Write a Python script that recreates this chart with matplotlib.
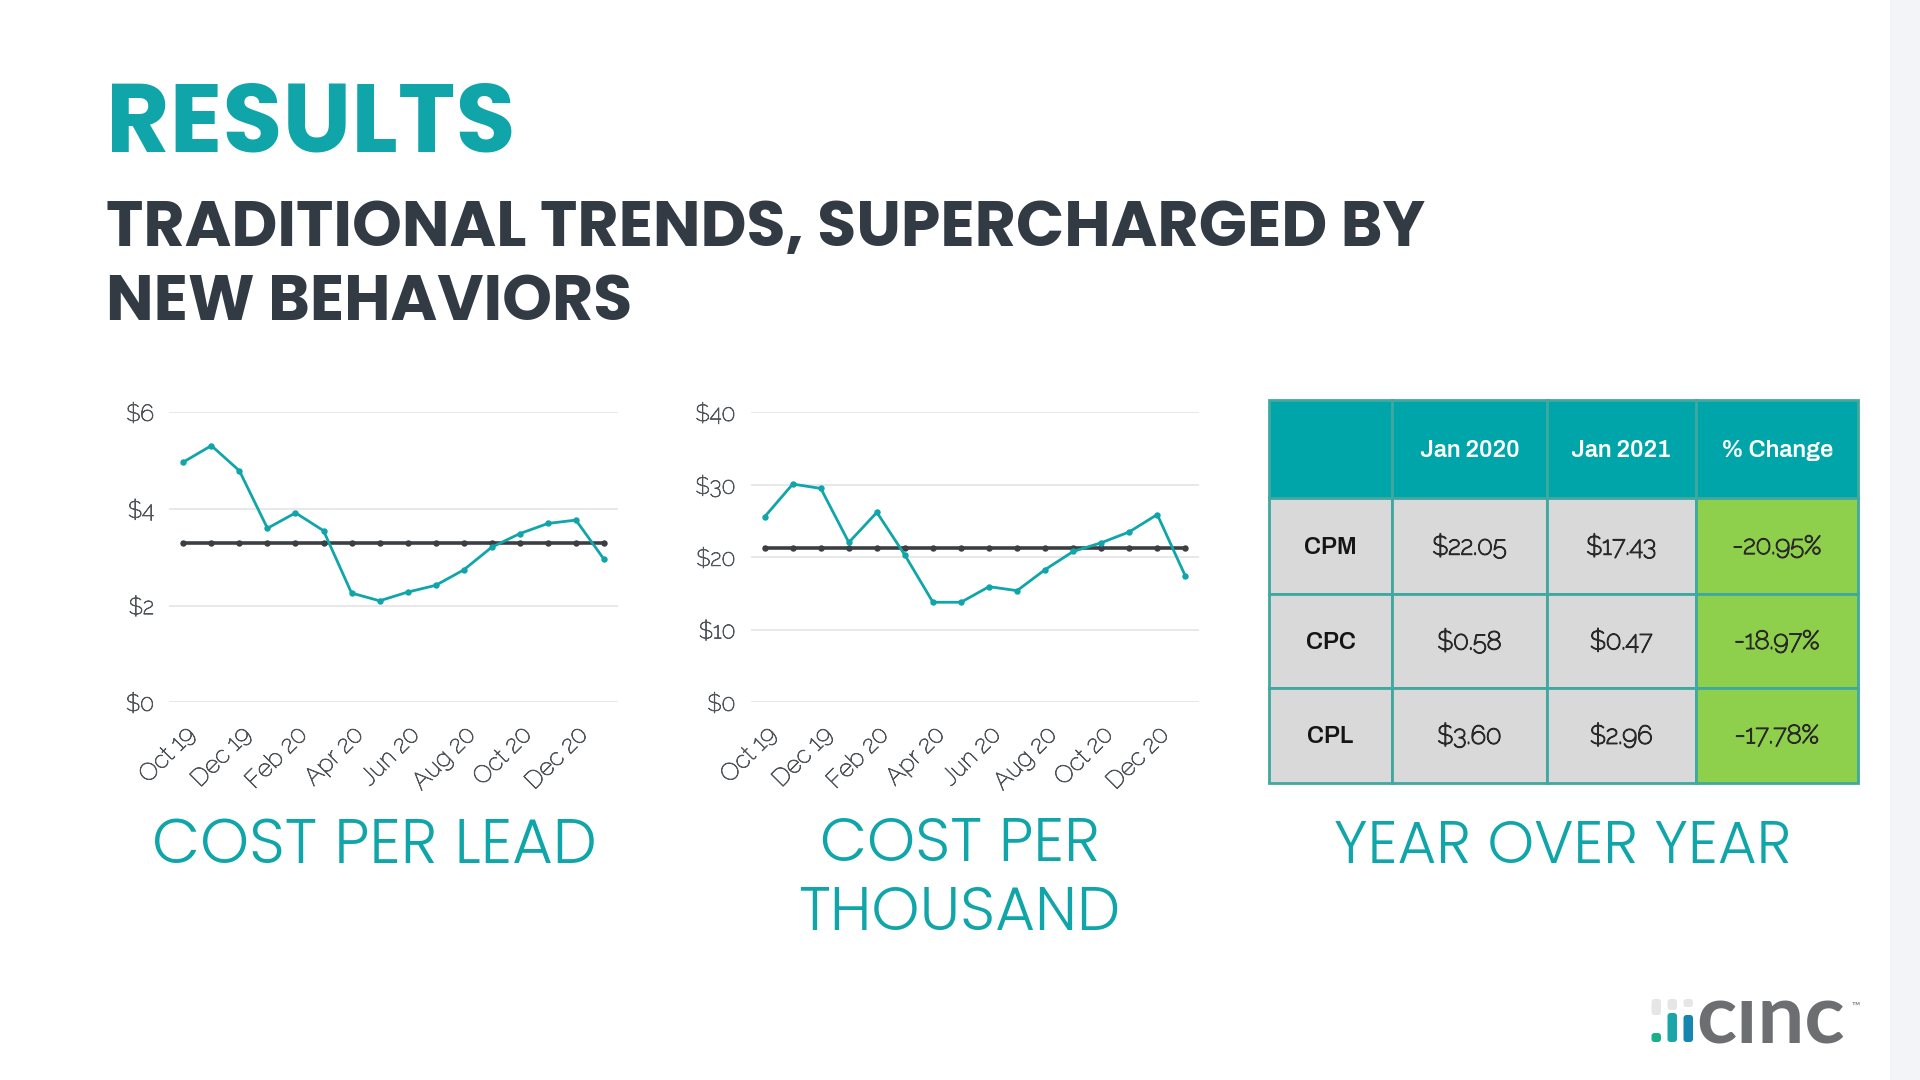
import matplotlib
matplotlib.use("Agg")
import matplotlib.pyplot as plt
from matplotlib.patches import Rectangle, FancyBboxPatch
from matplotlib.transforms import ScaledTranslation
import matplotlib.patheffects as pe

# ---------------- data ----------------
months = ["Oct 19", "Nov 19", "Dec 19", "Jan 20", "Feb 20", "Mar 20", "Apr 20", "May 20",
          "Jun 20", "Jul 20", "Aug 20", "Sep 20", "Oct 20", "Nov 20", "Dec 20", "Jan 21"]
cpl_values = [4.97, 5.31, 4.79, 3.60, 3.92, 3.55, 2.26, 2.10, 2.28, 2.42, 2.74, 3.21, 3.49, 3.70, 3.77, 2.96]
cpl_average = 3.29
cpm_values = [25.6, 30.1, 29.5, 22.05, 26.2, 20.3, 13.8, 13.8, 15.95, 15.4, 18.3, 20.8, 22.0, 23.5, 25.9, 17.43]
cpm_average = 21.3
cpl_ticks = [0, 2, 4, 6]
cpm_ticks = [0, 10, 20, 30, 40]

table_header = ["", "Jan 2020", "Jan 2021", "% Change"]
table_metrics = ["CPM", "CPC", "CPL"]
table_jan2020 = ["$22.05", "$0.58", "$3.60"]
table_jan2021 = ["$17.43", "$0.47", "$2.96"]
table_change = ["-20.95%", "-18.97%", "-17.78%"]

TEAL = "#0FA5A9"
DARK = "#323B44"
AVG = "#3B3F44"
GRID = "#E6E6E6"
TICK = "#50565C"
RALEWAY = ["Raleway", "Lato", "DejaVu Sans"]
HEAD = ["Poppins", "Lato", "DejaVu Sans"]
BOLDF = ["Archivo", "Lato", "DejaVu Sans"]
CAPF = ["Poppins", "Lato", "DejaVu Sans"]

fig = plt.figure(figsize=(19.2, 10.8), dpi=100, facecolor="white")
renderer = fig.canvas.get_renderer()

bg = fig.add_axes([0, 0, 1, 1], zorder=0)
bg.set_xlim(0, 1920)
bg.set_ylim(1080, 0)
bg.axis("off")
bg.add_patch(Rectangle((1889.5, 0), 31, 1080, color="#F3F4F8", lw=0))


def fit_text(x, y, s, width, ha="left", size0=40, **kw):
    t = bg.text(x, y, s, fontsize=size0, ha=ha, va="baseline", **kw)
    w = t.get_window_extent(renderer).width
    t.set_fontsize(size0 * width / w)
    return t


def thick(lw, color):
    return [pe.withStroke(linewidth=lw, foreground=color)]


# titles
fit_text(106, 152, "RESULTS", 410, family=HEAD, fontweight="bold", color=TEAL)
t_sub = fit_text(106, 246, "TRADITIONAL TRENDS, SUPERCHARGED BY", 1322, family=HEAD,
                 fontweight="bold", color=DARK)
bg.text(106, 320, "NEW BEHAVIORS", fontsize=t_sub.get_fontsize(), family=HEAD, fontweight="bold",
        color=DARK, ha="left", va="baseline")


# ---------------- line charts ----------------
def line_chart(rect, values, avg, ticks):
    ax = fig.add_axes(rect, zorder=2)
    ax.set_facecolor("none")
    x = list(range(len(values)))
    ax.plot(x, [avg] * len(values), color=AVG, lw=2.6, marker="o", ms=3.6, zorder=3)
    ax.plot(x, values, color=TEAL, lw=2.0, marker="o", ms=3.6, zorder=4)
    ax.set_xlim(-0.5, len(values) - 0.5)
    ax.set_ylim(ticks[0], ticks[-1])
    ax.set_yticks(ticks)
    ax.set_yticklabels([f"${t}" for t in ticks], family=RALEWAY, fontsize=16.5, color=TICK,
                       path_effects=thick(0.6, TICK))
    ax.set_xticks(x[::2])
    ax.set_xticklabels(months[::2], rotation=45, ha="right", rotation_mode="anchor",
                       family=RALEWAY, fontsize=17.5, color=TICK, path_effects=thick(0.6, TICK))
    off = ScaledTranslation(0.21, 0.08, fig.dpi_scale_trans)
    for lab in ax.get_xticklabels():
        lab.set_transform(lab.get_transform() + off)
    ax.grid(axis="y", color=GRID, lw=1.3)
    ax.set_axisbelow(True)
    for s in ax.spines.values():
        s.set_visible(False)
    ax.tick_params(axis="both", length=0)
    ax.tick_params(axis="y", pad=11)
    ax.tick_params(axis="x", pad=15)
    return ax


line_chart([169.3 / 1920, 1 - 702.3 / 1080, 448.7 / 1920, 290 / 1080], cpl_values, cpl_average, cpl_ticks)
line_chart([750.7 / 1920, 1 - 702.3 / 1080, 448.6 / 1920, 290 / 1080], cpm_values, cpm_average, cpm_ticks)

# ---------------- table ----------------
col_edges = [1268.6, 1392.3, 1546.6, 1696.0, 1857.6]
row_edges = [400.4, 498.4, 593.9, 688.2, 782.5]
HEADER = "#00A5AA"
GRAY = "#D9D9D9"
GREEN = "#8ECF4B"
BORDER = "#3FA89F"

rows = [table_header] + [[m, a, b, c] for m, a, b, c in
                         zip(table_metrics, table_jan2020, table_jan2021, table_change)]
for r in range(4):
    for c in range(4):
        x0, x1 = col_edges[c], col_edges[c + 1]
        y0, y1 = row_edges[r], row_edges[r + 1]
        fc = HEADER if r == 0 else (GREEN if c == 3 else GRAY)
        bg.add_patch(Rectangle((x0, y0), x1 - x0, y1 - y0, facecolor=fc, edgecolor=BORDER, lw=2))
        txt = rows[r][c]
        if not txt:
            continue
        if r == 0:
            kw = dict(color="white", fontweight="bold", fontsize=17, family=BOLDF)
        elif c == 0:
            kw = dict(color="#151515", fontweight="bold", fontsize=17, family=BOLDF)
        else:
            kw = dict(color="#2A2A2A", fontsize=18.5, family=RALEWAY,
                      path_effects=thick(1.0, "#2A2A2A"))
        bg.text((x0 + x1) / 2, (y0 + y1) / 2 + 1, txt, ha="center", va="center", **kw)

# ---------------- captions ----------------
cap = dict(family=CAPF, fontweight=300, color=TEAL)
fit_text(374, 863, "COST PER LEAD", 445, ha="center", **cap)
t_ct = fit_text(960, 861, "COST PER", 280, ha="center", **cap)
bg.text(959, 930, "THOUSAND", fontsize=t_ct.get_fontsize(), ha="center", va="baseline", **cap)
fit_text(1563, 863, "YEAR OVER YEAR", 458, ha="center", **cap)

# ---------------- logo ----------------
logo_bars = [
    (1651.5, 999, 1015, "#E6E6E6"), (1651.5, 1033, 1042, "#1BAE8A"),
    (1667.5, 999, 1010, "#E6E6E6"), (1667.5, 1013, 1042, "#1AA5A8"),
    (1683.5, 999, 1007, "#E6E6E6"), (1683.5, 1015, 1042, "#1686B0"),
]
for x0, y0, y1, col in logo_bars:
    bg.add_patch(FancyBboxPatch((x0, y0), 9.5, y1 - y0, boxstyle="round,pad=0,rounding_size=3",
                                facecolor=col, edgecolor="none"))
bg.text(1696, 1043, "c\u0131nc", family="Lato", fontweight="bold", fontsize=60, color="#6D6E71",
        ha="left", va="baseline")
bg.text(1852, 1006, "\u2122", family="Lato", fontsize=8, color="#6D6E71", ha="left", va="center")

fig.savefig("out.png", dpi=100, facecolor="white")
